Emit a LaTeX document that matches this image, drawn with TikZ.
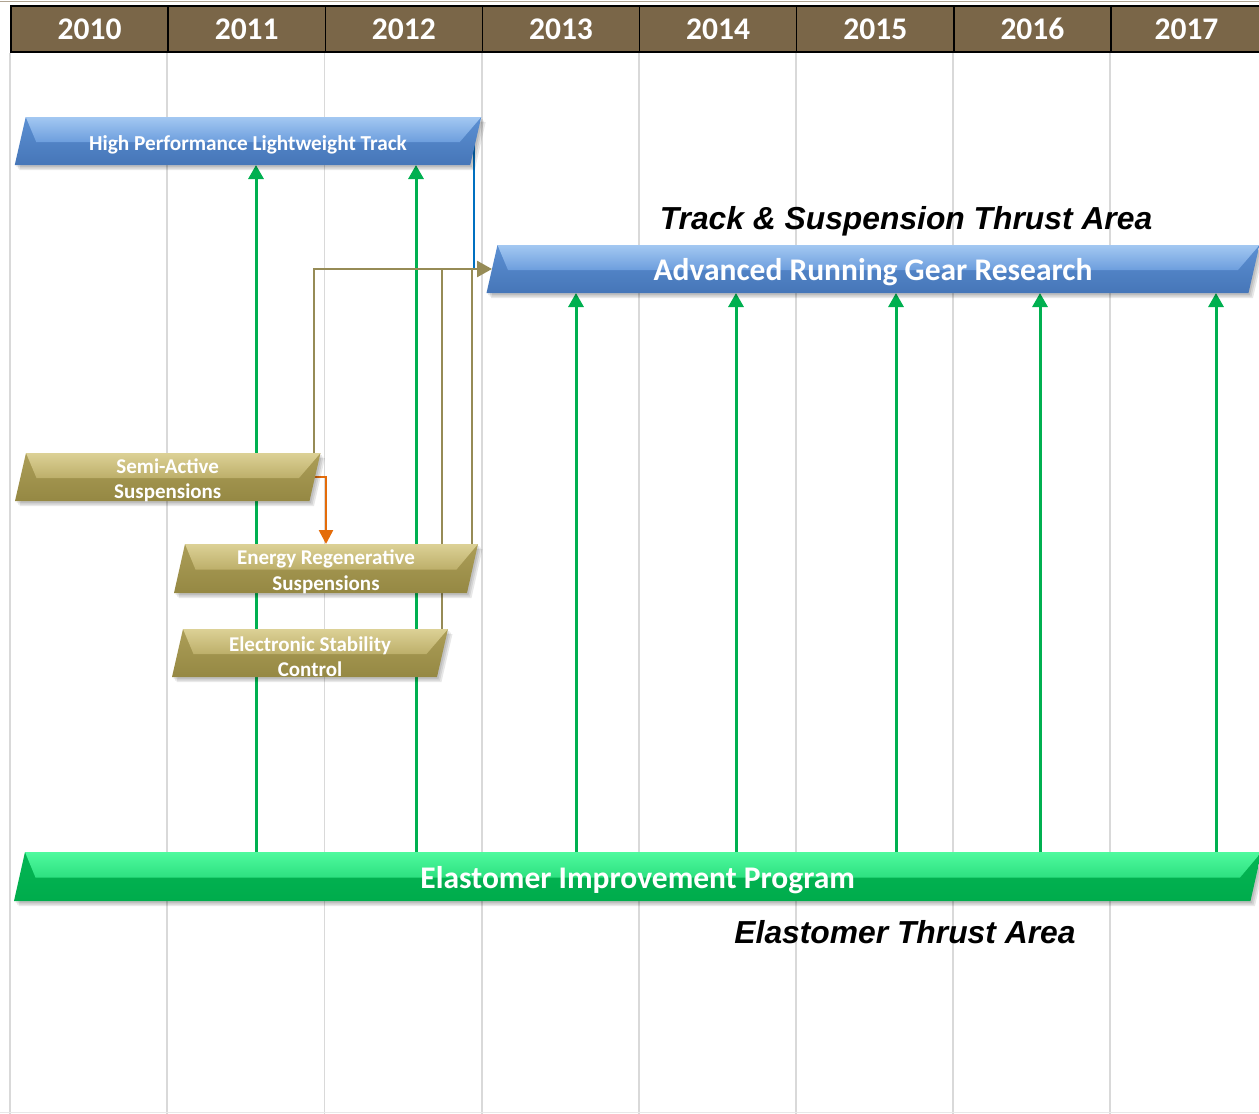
\documentclass[tikz,border=0pt]{standalone}
\usepackage{fontspec}
\setmainfont{Carlito}
\newfontfamily\arialf{Liberation Sans}
\usetikzlibrary{arrows.meta,calc}
\pgfdeclarelayer{bglayer}
\pgfdeclarelayer{gridlayer}
\pgfdeclarelayer{connlayer}
\pgfsetlayers{bglayer,gridlayer,connlayer,main}
\definecolor{hdr}{HTML}{7A6648}
\definecolor{gridc}{HTML}{D9D9D9}
\definecolor{olln}{HTML}{968B56}
\definecolor{orng}{HTML}{E46C0A}
\definecolor{garr}{HTML}{00B050}
\definecolor{bln}{HTML}{0070C0}
\definecolor{bluetop}{HTML}{A3C8F2}
\definecolor{blueband}{HTML}{6D9EDD}
\definecolor{bluemid}{HTML}{5C90D3}
\definecolor{bluebot}{HTML}{4676B8}
\definecolor{oltop}{HTML}{DCD196}
\definecolor{olband}{HTML}{BDAF6A}
\definecolor{olmid}{HTML}{AC9E58}
\definecolor{olbot}{HTML}{958843}
\definecolor{grtop}{HTML}{4FFA9E}
\definecolor{grband}{HTML}{2DE080}
\definecolor{grmid}{HTML}{04B654}
\definecolor{grbot}{HTML}{00AC4C}
\tikzset{
  hdrcell/.style={draw=black,line width=1.5pt,fill=hdr,text=white,
    font=\fontsize{31.5}{36}\selectfont\bfseries,minimum height=46,inner sep=0},
  gridline/.style={draw=gridc,line width=1.8pt},
  boxshape/.style={inner sep=0,outer sep=0},
  boxtext/.style={text=white,align=center,inner sep=0,outer sep=0},
  garrow/.style={draw=garr,line width=3pt,-{Triangle[width=15pt,length=14pt]}},
  oline/.style={draw=olln,line width=2.5pt},
  oarrow/.style={oline,-{Triangle[width=16pt,length=15pt]}},
  orarrow/.style={draw=orng,line width=2.5pt,-{Triangle[width=14pt,length=14pt]}},
  bline/.style={draw=bln,line width=2.5pt},
  thrust/.style={font=\arialf\bfseries\itshape\fontsize{31.8}{36}\selectfont,inner sep=0,anchor=base}
}
% #1 name, #2 cx, #3 cy, #4 w, #5 h, #6 slant, #7 palette, #8 font, #9 text
\newcommand\bevbox[9]{%
  \foreach \sx/\sy in {1.5/2,3/3.5,4.5/5}
    \fill[black,opacity=0.09]
      ({#2-#4/2-#6/2+\sx},{#3+#5/2+\sy}) -- ({#2+#4/2-#6/2+\sx},{#3+#5/2+\sy}) --
      ({#2+#4/2+#6/2+\sx},{#3-#5/2+\sy}) -- ({#2-#4/2+#6/2+\sx},{#3-#5/2+\sy}) -- cycle;
  \path[top color=#7mid,bottom color=#7bot]
    ({#2-#4/2-#6/2},{#3+#5/2}) -- ({#2+#4/2-#6/2},{#3+#5/2}) --
    ({#2+#4/2+#6/2},{#3-#5/2}) -- ({#2-#4/2+#6/2},{#3-#5/2}) -- cycle;
  \path[top color=#7top,bottom color=#7band]
    ({#2-#4/2+#6/2},{#3-#5/2}) -- ({#2+#4/2+#6/2},{#3-#5/2}) --
    ({#2+#4/2-16},{#3+1}) -- ({#2-#4/2+16},{#3+1}) -- cycle;
  \node[boxshape,minimum width=#4,minimum height=#5] (#1) at (#2,#3) {};
  \node[boxtext,font=#8] (#1-t) at (#2,{#3+3.5}) {#9};
}
\begin{document}
\begin{tikzpicture}[x=1pt,y=-1pt]
\useasboundingbox (0,0) rectangle (1259,1114);
\begin{pgfonlayer}{bglayer}
  \fill[white] (0,0) rectangle (1259,1114);
\end{pgfonlayer}
% header
\draw[line width=1.5pt,color=hdr!60] (0,1.5) -- (1259,1.5);
\node[hdrcell,minimum width=157.14] (y2010) at (89.57,29) {2010};
\node[hdrcell,minimum width=157.14] (y2011) at (246.71,29) {2011};
\node[hdrcell,minimum width=157.14] (y2012) at (403.86,29) {2012};
\node[hdrcell,minimum width=157.14] (y2013) at (561,29) {2013};
\node[hdrcell,minimum width=157.14] (y2014) at (718.14,29) {2014};
\node[hdrcell,minimum width=157.14] (y2015) at (875.29,29) {2015};
\node[hdrcell,minimum width=157.14] (y2016) at (1032.43,29) {2016};
\node[hdrcell,minimum width=151] (y2017) at (1186.5,29) {2017};
\coordinate (bot) at (0,1114);
\begin{pgfonlayer}{gridlayer}
  \draw[gridline] (y2010.south west) -- (y2010.south west |- bot);
  \draw[gridline] (y2011.south west) -- (y2011.south west |- bot);
  \draw[gridline] (y2012.south west) -- (y2012.south west |- bot);
  \draw[gridline] (y2013.south west) -- (y2013.south west |- bot);
  \draw[gridline] (y2014.south west) -- (y2014.south west |- bot);
  \draw[gridline] (y2015.south west) -- (y2015.south west |- bot);
  \draw[gridline] (y2016.south west) -- (y2016.south west |- bot);
  \draw[gridline] (y2017.south west) -- (y2017.south west |- bot);
  \draw[draw=gridc!60,line width=1.2pt] (0,1112.5) -- (1259,1112.5);
\end{pgfonlayer}
% boxes
\bevbox{hplt}{248}{141}{455.5}{48}{11}{blue}{\fontsize{21.3}{25}\selectfont\bfseries}{High Performance Lightweight Track}
\bevbox{argr}{873}{269}{762}{48}{11}{blue}{\fontsize{31.5}{36}\selectfont\bfseries}{Advanced Running Gear Research}
\bevbox{sas}{167.75}{477}{294.5}{48}{11}{ol}{\fontsize{21}{25.5}\selectfont\bfseries}{Semi-Active\\Suspensions}
\bevbox{ers}{326}{568.5}{293}{49}{11}{ol}{\fontsize{21}{25.5}\selectfont\bfseries}{Energy Regenerative\\Suspensions}
\bevbox{esc}{310}{653}{265}{48}{11}{ol}{\fontsize{21}{25.5}\selectfont\bfseries}{Electronic Stability\\Control}
\bevbox{eip}{637.75}{876.5}{1236.5}{49}{11}{gr}{\fontsize{31.5}{36}\selectfont\bfseries}{Elastomer Improvement Program}
% thrust labels
\node[thrust] (tsta) at (906,229) {Track \& Suspension Thrust Area};
\node[thrust] (eta) at (905,943) {Elastomer Thrust Area};
% connector x positions
\coordinate (g1) at (256,0);
\coordinate (g2) at (416,0);
\coordinate (g3) at (576,0);
\coordinate (g4) at (736,0);
\coordinate (g5) at (896,0);
\coordinate (g6) at (1040,0);
\coordinate (g7) at (1216,0);
\coordinate (o1) at (314,0);
\coordinate (o2) at (442,0);
\coordinate (o3) at (472,0);
\coordinate (b1) at (474,0);
\coordinate (r1) at (326,0);
\begin{pgfonlayer}{connlayer}
  \draw[garrow] (eip.north -| g1) -- (hplt.south -| g1);
  \draw[garrow] (eip.north -| g2) -- (hplt.south -| g2);
  \draw[garrow] (eip.north -| g3) -- (argr.south -| g3);
  \draw[garrow] (eip.north -| g4) -- (argr.south -| g4);
  \draw[garrow] (eip.north -| g5) -- (argr.south -| g5);
  \draw[garrow] (eip.north -| g6) -- (argr.south -| g6);
  \draw[garrow] (eip.north -| g7) -- (argr.south -| g7);
  \draw[oline] (esc.north -| o2) -- (argr.west -| o2);
  \draw[oline] (ers.north -| o3) -- (argr.west -| o3);
  \draw[bline] (hplt.east -| b1) -- (argr.west -| b1);
  \draw[oarrow] (sas.north -| o1) |- (argr.west);
  \draw[orarrow] (sas.east) -| (ers.north -| r1);
\end{pgfonlayer}
\end{tikzpicture}
\end{document}
